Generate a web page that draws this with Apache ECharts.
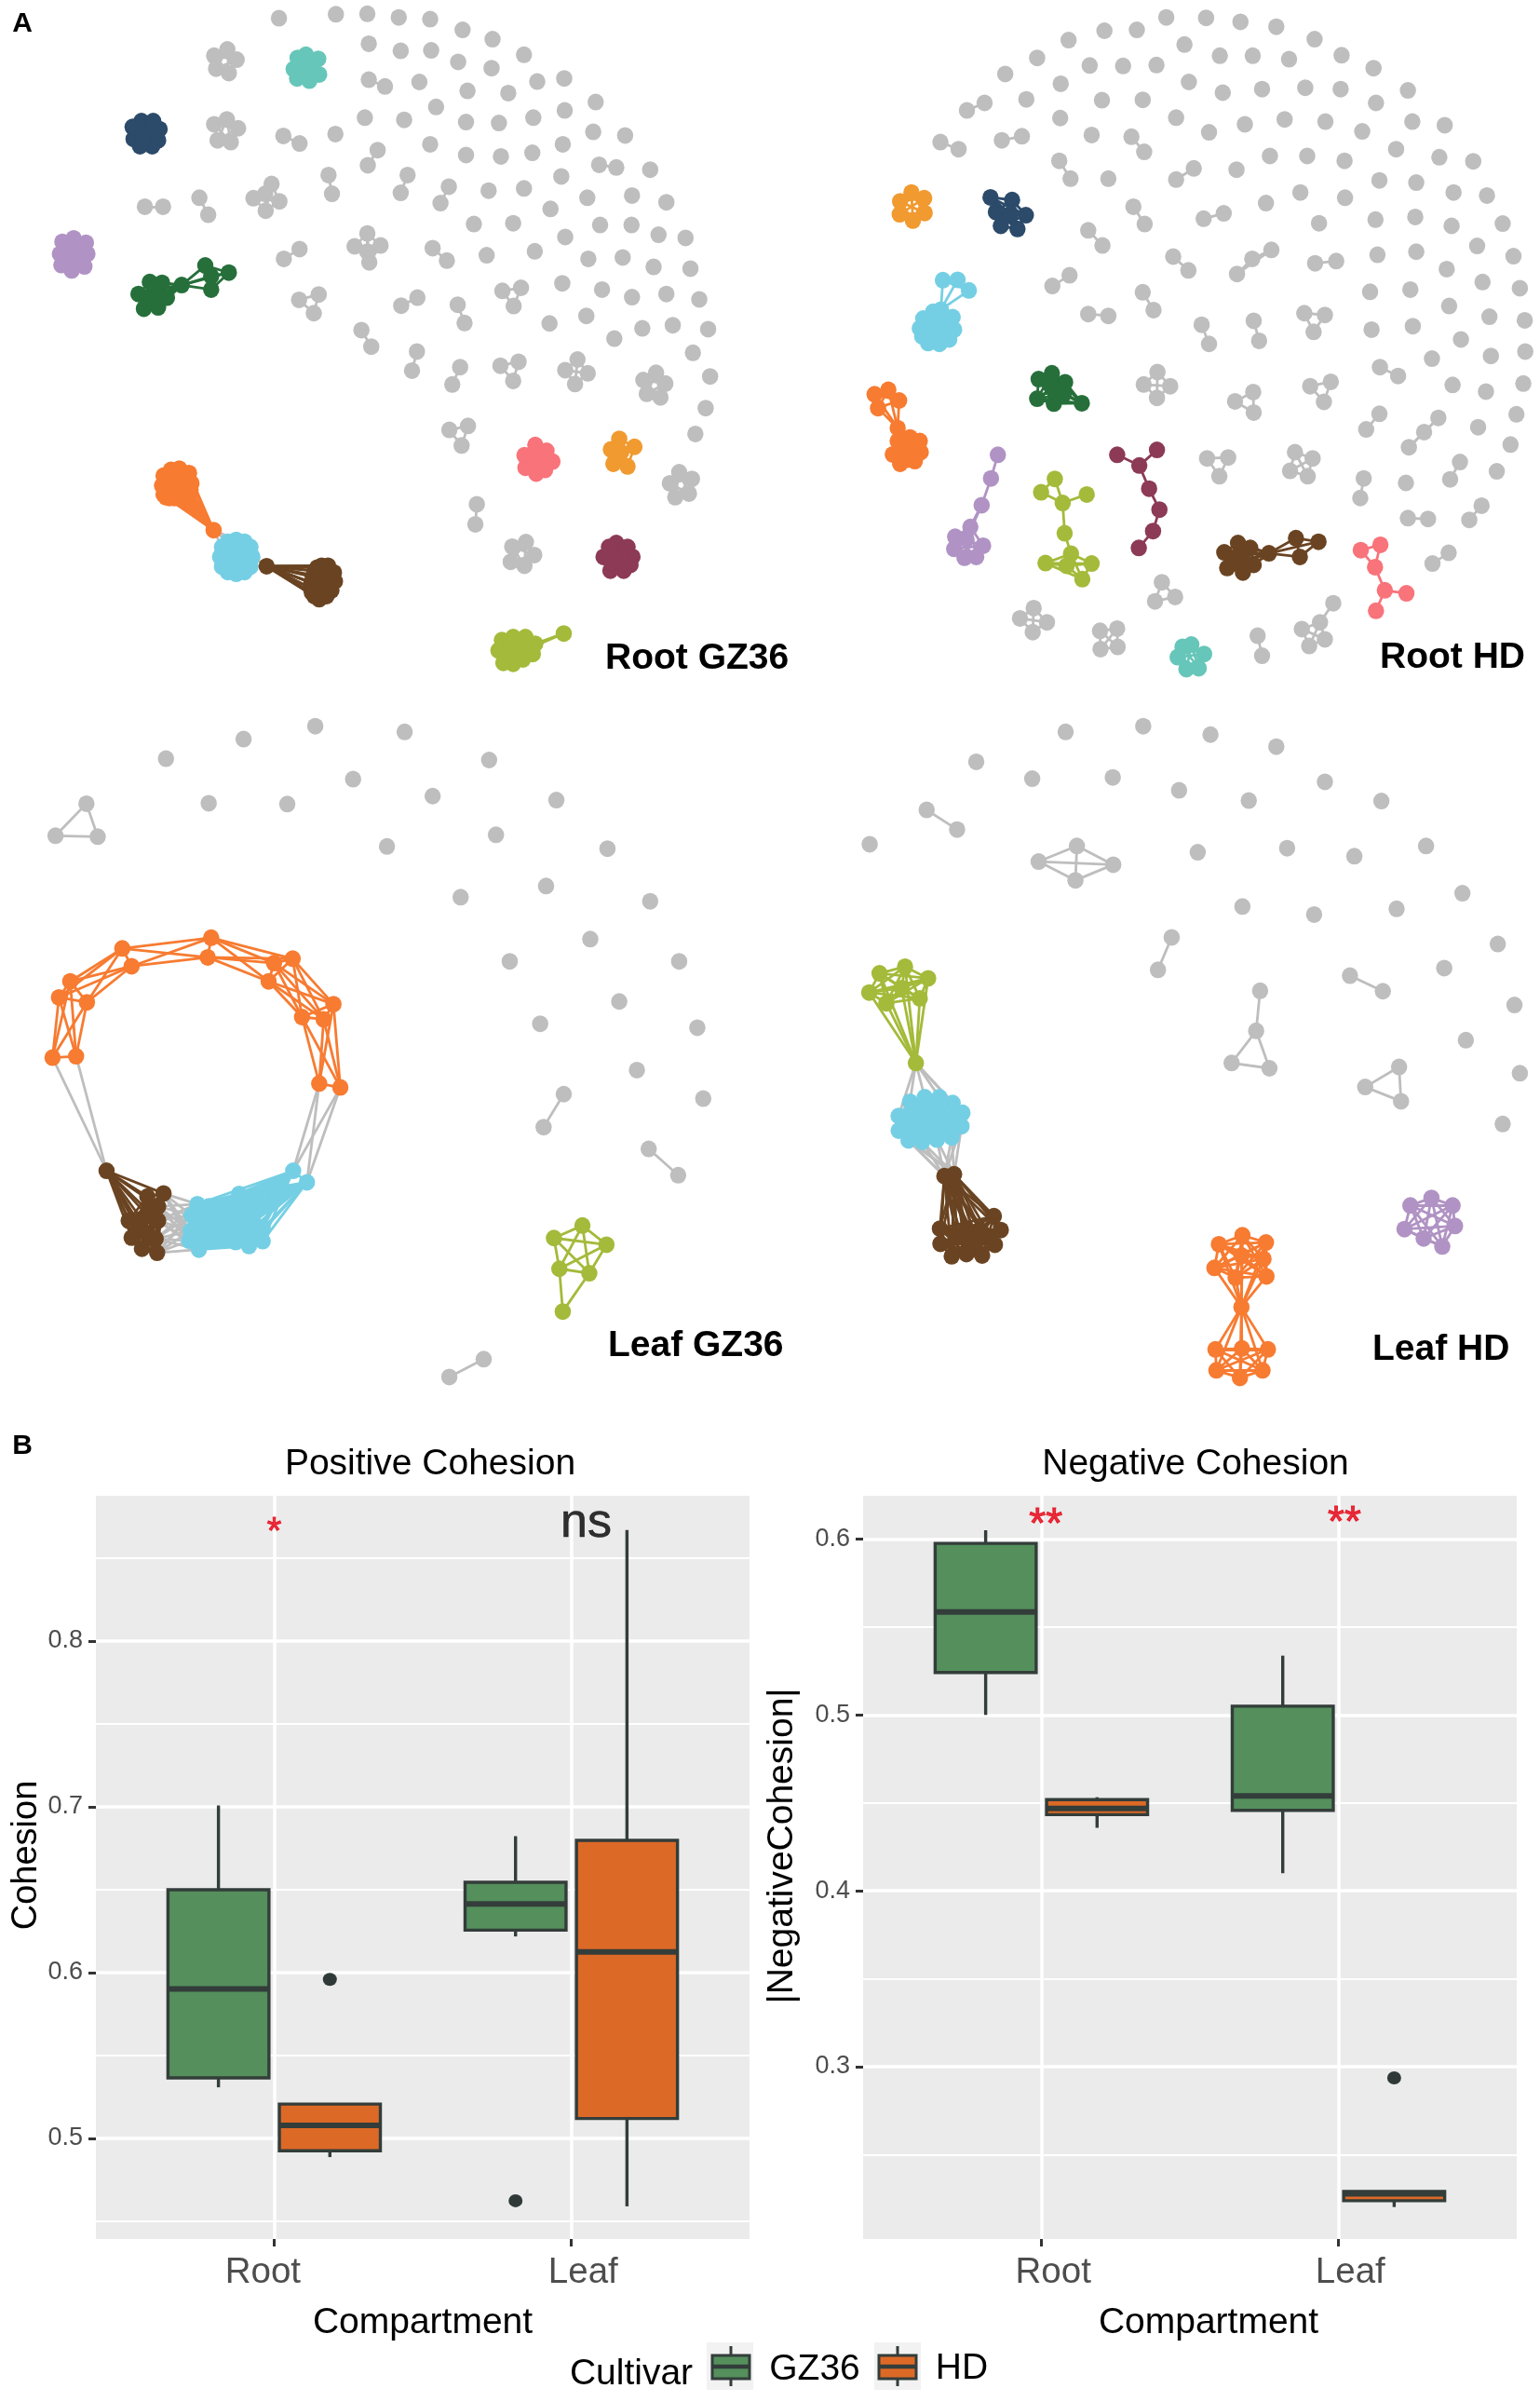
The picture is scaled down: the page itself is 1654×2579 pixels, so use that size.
<!DOCTYPE html>
<html><head><meta charset="utf-8">
<style>html,body{margin:0;padding:0;background:#fff}#c{width:1654px;height:2579px}</style>
<script src="https://cdn.jsdelivr.net/npm/echarts@6/dist/echarts.min.js"></script>
</head><body><div id="c"></div>
<script>
// ---------- Panel B values ----------
const compartments = ['Root', 'Leaf'];
const cultivars = ['GZ36', 'HD'];
// [low, q1, median, q3, high]
const posGZ36 = [[0.5308, 0.5365, 0.5902, 0.65, 0.7008], [0.6218, 0.6256, 0.6414, 0.6545, 0.6823]];
const posHD = [[0.4887, 0.4925, 0.5079, 0.5207, 0.5207], [0.459, 0.512, 0.6124, 0.6797, 0.8669]];
const negGZ36 = [[0.5, 0.5241, 0.5585, 0.5975, 0.605], [0.41, 0.4457, 0.4539, 0.505, 0.5337]];
const negHD = [[0.4358, 0.4433, 0.4468, 0.4518, 0.4532], [0.2202, 0.2238, 0.2277, 0.2291, 0.2294]];
const posOutGZ36 = [[2, 0.4624]];
const posOutHD = [[1, 0.5959]];
const negOutHD = [[2, 0.2936]];
const posTicks = [0.5, 0.6, 0.7, 0.8];
const posMinor = [0.45, 0.55, 0.65, 0.75, 0.85];
const negTicks = [0.3, 0.4, 0.5, 0.6];
const negMinor = [0.25, 0.35, 0.45, 0.55];
const posSig = [[1, 0.865, '*']];
const posNs = [[2.05, 0.871, 'ns']];
const negSig = [[1.015, 0.6073, '**'], [2.02, 0.6083, '**']];

// ---------- Panel A networks, in layout units ----------
const rgSingles = [[568,41],[684,32],[748,31],[812,39],[876,43],[942,67],[1003,88],[1067,123],[751,98],[816,114],[878,113],[933,139],[1001,153],[1094,183],[1149,176],[854,184],[952,204],[1035,209],[1213,229],[888,240],[1150,248],[1086,264],[743,264],[823,269],[949,274],[1016,276],[1208,296],[1273,304],[683,301],[876,324],[949,348],[1020,351],[1084,343],[1146,324],[1324,381],[1143,396],[1067,423],[995,428],[1196,444],[1287,439],[1357,454],[1121,469],[965,503],[1045,501],[1222,505],[1286,505],[1151,532],[1341,527],[1396,534],[1089,564],[991,573],[1198,581],[1268,578],[1331,599],[1406,603],[1145,636],[1226,650],[1287,667],[1357,660],[1424,672],[1119,726],[1194,709],[1251,760],[1308,737],[1370,730],[1442,739],[1411,792],[1446,845],[1437,916],[1416,974]];
const rgGrey = [
 [[751,179],[784,194]],[[577,305],[610,322]],[[769,337],[749,371]],[[669,393],[676,435]],[[830,393],[816,433]],[[914,419],[897,456]],[[1220,370],[1255,376]],[[295,464],[332,464]],[[406,444],[424,482]],[[610,559],[578,581]],[[881,557],[910,585]],[[850,668],[817,686]],[[932,684],[946,725]],[[736,741],[756,778]],[[849,789],[839,832]],[[937,824],[921,863]],[[971,1132],[968,1177]],
 [[609,673],[649,661],[639,703]],[[1023,653],[1061,646],[1046,687]],[[1019,821],[1056,812],[1045,855]],[[915,965],[953,956],[940,1000]],
 [[436,125],[463,111],[482,134],[466,164],[440,154]],[[436,279],[462,268],[485,288],[470,319],[443,315]],[[553,413],[516,445],[569,452],[541,473],[540,435]],[[748,524],[722,553],[775,551],[752,589],[748,565]],[[1176,807],[1151,831],[1197,838],[1171,862]],[[1336,837],[1310,853],[1355,861],[1345,892],[1317,884]],[[1383,1060],[1364,1085],[1409,1075],[1403,1108],[1375,1116]],[[1071,1217],[1043,1227],[1088,1246],[1068,1270],[1040,1261]]
];
const rgModules = [
 ['teal',[[623,123],[648,132],[650,167],[630,181],[605,176],[598,155],[606,130],[625,150]]],
 ['navy',[[288,272],[312,272],[325,290],[322,315],[310,328],[285,328],[272,312],[270,285],[295,300],[310,295],[290,315]]],
 ['purple',[[150,535],[175,545],[178,570],[172,598],[146,607],[125,595],[122,570],[127,543],[150,570],[135,555],[165,585],[165,555],[135,585]]],
 ['dkgreen',[[282,660],[305,633],[330,635],[293,693],[322,690],[340,668],[315,650],[320,665],[300,670],[370,640]]],
 ['dkgreen',[[370,640],[418,596],[466,612],[430,650],[430,620]]],
 ['coral',[[1090,999],[1113,1012],[1125,1036],[1110,1055],[1092,1063],[1070,1050],[1068,1022],[1095,1030]]],
 ['amber',[[1261,985],[1292,1003],[1278,1047],[1249,1041],[1244,1009],[1265,1015]]],
 ['maroon',[[1255,1219],[1278,1228],[1288,1250],[1284,1268],[1270,1281],[1243,1281],[1229,1250],[1240,1228],[1258,1250],[1270,1250],[1245,1262]]],
 ['orange',[[365,1052],[385,1062],[390,1085],[388,1100],[382,1107],[375,1112],[368,1115],[362,1117],[355,1118],[345,1118],[338,1116],[333,1110],[330,1090],[333,1068],[348,1055],[360,1085],[345,1085],[375,1085],[435,1190]]],
 ['cyan',[[481,1212],[498,1216],[510,1228],[514,1250],[510,1272],[498,1284],[481,1288],[464,1284],[452,1272],[448,1250],[452,1228],[464,1216],[481,1250],[465,1240],[497,1240],[470,1265],[495,1265],[481,1230]]],
 ['brown',[[655,1270],[668,1270],[680,1285],[682,1305],[675,1325],[665,1338],[650,1345],[640,1338],[635,1330],[633,1320],[634,1308],[637,1295],[641,1282],[646,1274],[655,1295],[660,1318],[543,1271]]],
 ['olive',[[1015,1460],[1022,1437],[1045,1430],[1070,1430],[1090,1445],[1085,1468],[1065,1480],[1045,1490],[1025,1488],[1050,1455],[1035,1462],[1068,1455],[1040,1445],[1055,1470]]],
 ['olive',[[1090,1445],[1148,1422],[1085,1452]],[[0,1],[1,2]]]
];
const rgBridges = [[[[435,1190]],[[452,1228],[464,1216],[481,1212]]],[[[543,1271]],[[514,1250],[510,1272]]]];

const rhSingles = [[807,39],[888,40],[958,49],[1031,60],[1109,88],[1164,124],[1229,153],[1299,203],[681,69],[747,67],[608,90],[544,130],[479,166],[844,100],[916,125],[983,125],[1057,133],[651,147],[719,148],[787,146],[853,184],[592,188],[922,208],[1002,200],[1090,197],[1162,200],[1234,231],[522,223],[676,225],[759,224],[591,265],[827,264],[967,279],[1048,268],[1131,273],[1206,295],[1308,273],[1374,281],[655,303],[894,297],[1275,335],[1363,353],[1432,362],[1018,350],[1094,350],[1170,361],[950,381],[689,401],[1241,405],[1316,410],[1392,432],[1460,439],[1080,432],[1171,444],[1010,456],[1118,501],[1233,493],[1314,487],[1388,507],[1492,502],[1237,572],[1316,565],[1440,552],[1514,575],[1378,604],[1451,633],[1527,647],[1222,655],[1304,650],[1383,687],[1465,711],[1537,719],[1225,740],[1309,732],[1407,762],[1348,805],[1468,799],[1538,789],[1390,864],[1458,879],[1534,861],[1442,959],[1520,930],[1508,998],[1480,1058],[1295,1084]];
const rhGrey = [
 [[401,248],[437,231]],[[347,319],[384,335]],[[472,315],[513,306]],[[736,307],[762,341]],[[589,361],[612,401]],[[863,378],[827,403]],[[740,464],[763,503]],[[648,517],[677,551]],[[924,479],[883,491]],[[821,576],[852,607]],[[1110,591],[1153,586]],[[610,618],[575,642]],[[648,705],[689,709]],[[759,656],[781,696]],[[879,729],[894,772]],[[985,720],[996,765]],[[1242,824],[1279,844]],[[1241,929],[1214,964]],[[1209,1074],[1202,1118]],[[1405,1037],[1385,1076]],[[1299,1163],[1340,1165]],[[1449,1135],[1424,1167]],[[1382,1241],[1349,1265]],[[993,1427],[1002,1472]],
 [[951,615],[982,581],[1021,561]],[[1301,1004],[1332,970],[1361,938]],
 [[1088,703],[1130,707],[1107,745]],[[984,880],[947,901],[985,926]],[[1142,857],[1100,867],[1128,902]],[[890,1029],[933,1027],[915,1069]],[[798,1307],[825,1340],[784,1350]],
 [[789,835],[761,863],[815,867],[788,893]],[[1069,1015],[1105,1029],[1059,1057],[1095,1069]],[[537,1365],[509,1388],[564,1397],[535,1419]],[[672,1416],[707,1411],[673,1457],[708,1452]],
 [[1083,1412],[1120,1397],[1130,1435],[1098,1450]],[[1147,1354],[1120,1397]]
];
const rhModules = [
 ['amber',[[288,432],[314,445],[315,478],[291,495],[264,481],[265,452]]],
 ['navy',[[449,443],[493,449],[521,483],[504,514],[470,507],[460,476],[490,480]]],
 ['cyan',[[352,629],[382,628],[405,652],[348,695]]],
 ['cyan',[[348,695],[312,715],[332,700],[372,712],[375,740],[365,762],[345,772],[322,770],[310,755],[305,737],[340,735],[330,718],[355,725],[335,750],[355,750]]],
 ['orange',[[213,885],[241,875],[263,899],[220,916],[260,961]]],
 ['orange',[[260,961],[260,990],[285,982],[305,990],[307,1015],[295,1035],[265,1041],[250,1020],[278,1012],[265,1012],[290,1010],[280,1032],[282,995]]],
 ['dkgreen',[[547,851],[574,838],[601,858],[544,895],[578,906],[598,885],[635,905],[575,870]]],
 ['olive',[[580,1075],[552,1105],[596,1129]]],
 ['olive',[[596,1129],[645,1110]],[[0,1]]],
 ['olive',[[596,1129],[600,1197],[613,1243]],[[0,1],[1,2]]],
 ['olive',[[561,1264],[604,1270],[613,1243],[655,1265],[636,1300]]],
 ['purple',[[464,1021],[450,1074],[431,1134],[408,1183]],[[0,1],[1,2],[2,3]]],
 ['purple',[[431,1134],[408,1183],[377,1205],[375,1232],[396,1252],[420,1250],[434,1225],[400,1210]],[[0,1],[0,7],[1,2],[1,3],[1,4],[1,5],[1,6],[1,7],[2,3],[2,4],[2,5],[2,6],[3,4],[3,5],[3,6],[4,5],[4,6],[5,6]]],
 ['maroon',[[707,1021],[788,1010],[752,1045],[772,1097],[793,1144],[780,1192],[751,1230]],[[0,2],[1,2],[2,3],[3,4],[4,5],[5,6]]],
 ['brown',[[925,1240],[953,1219],[978,1230],[985,1268],[963,1285],[931,1275],[955,1245],[965,1260],[945,1262],[1016,1242]]],
 ['brown',[[1016,1242],[1071,1208],[1117,1216],[1079,1250]]],
 ['coral',[[1203,1235],[1243,1223],[1232,1273],[1252,1325],[1296,1332],[1234,1371]],[[0,1],[0,2],[1,2],[2,3],[3,4],[3,5]]],
 ['teal',[[858,1447],[884,1468],[873,1500],[848,1502],[830,1475],[840,1452]]]
];
const rhBridges = [];

const lgSingles = [[338,135],[496,91],[642,62],[824,75],[996,138],[719,181],[425,235],[585,237],[881,219],[1133,228],[788,332],[1010,306],[1237,337],[938,446],[1112,421],[1324,455],[1202,540],[1038,590],[1383,590],[1261,680],[1100,730],[1420,739],[1297,834],[1432,898]];
const lgGrey = [[[1148,888],[1107,962]],[[1321,1011],[1381,1070]],[[985,1483],[915,1523]],[[176,236],[113,308],[199,310]]];
const lgRing = [[[107,806],[155,803]],[[120,671],[143,635],[177,682]],[[249,561],[268,601]],[[430,537],[423,581]],[[596,584],[558,594],[547,635]],[[679,686],[615,715],[659,720]],[[650,864],[693,873]]];
const lgModules = [
 ['brown',[[217,1060],[333,1111],[300,1118],[322,1140],[262,1172],[300,1160],[322,1172],[290,1195],[317,1213],[268,1210],[289,1235],[320,1244],[275,1180]]],
 ['cyan',[[597,1060],[625,1086],[487,1112],[515,1125],[402,1135],[390,1160],[500,1145],[420,1180],[388,1195],[535,1190],[385,1217],[405,1237],[507,1229],[535,1218],[450,1170],[480,1195],[430,1215],[510,1180],[402,1165],[405,1200],[490,1135],[520,1150],[525,1205],[480,1220],[455,1200],[440,1150],[470,1145],[425,1140]]],
 ['olive',[[1128,1211],[1186,1183],[1235,1226],[1139,1280],[1200,1290],[1146,1376]],[[0,1],[0,2],[0,3],[0,4],[1,2],[1,3],[1,4],[2,3],[2,4],[3,4],[5,3],[5,4]]]
];
const lgBridges = [
 [[[107,806],[155,803]],[[217,1060]]],
 [[[650,864],[693,873]],[[597,1060],[625,1086]]],
 [[[333,1111],[322,1140],[322,1172],[317,1213],[320,1244]],[[402,1135],[390,1160],[388,1195],[385,1217],[405,1237]]]
];

const lhSingles = [[602,75],[760,62],[897,81],[1031,108],[420,142],[534,180],[698,177],[833,206],[975,229],[1130,187],[1245,230],[203,327],[871,345],[1053,336],[1190,354],[1336,331],[962,467],[1108,485],[1276,472],[1410,437],[1482,551],[1373,605],[1516,688],[1417,767],[1527,841],[1492,955]];
const lhGrey = [[[319,250],[381,294]],[[818,536],[790,609]],[[1181,622],[1248,657]],
 [[547,366],[625,331],[699,373],[622,408]],[[998,656],[990,746]],[[990,746],[940,818],[1017,830]],[[1281,827],[1212,872],[1285,904]]];
const lhModules = [
 ['olive',[[275,602],[223,617],[322,628],[202,660],[237,684],[305,673],[268,650],[297,818]]],
 ['cyan',[[262,937],[262,970],[285,905],[315,895],[345,895],[372,908],[392,930],[390,960],[370,985],[340,990],[310,995],[282,992],[300,940],[340,930],[320,960],[355,955]]],
 ['brown',[[355,1072],[375,1068],[456,1162],[470,1193],[346,1190],[347,1224],[458,1226],[432,1250],[400,1247],[370,1252],[430,1195],[400,1190],[380,1205],[420,1215]]],
 ['orange',[[962,1205],[914,1225],[1010,1221],[1005,1258],[905,1278],[1011,1297],[948,1300],[960,1250],[960,1366]]],
 ['orange',[[960,1366],[907,1461],[961,1459],[1014,1461],[909,1508],[1003,1508],[957,1525]]],
 ['purple',[[1347,1121],[1304,1138],[1390,1138],[1395,1184],[1292,1191],[1331,1212],[1369,1230]]]
];
const lhBridges = [
 [[[297,818]],[[262,937],[285,905],[315,895],[345,895],[372,908],[392,930]]],
 [[[355,1072],[375,1068]],[[282,992],[310,995],[340,990],[370,985],[390,960],[262,970]]]
];

// ---------- presentation ----------
const palette = {grey:'#BEBEBF',teal:'#66C6B9',navy:'#2C4A69',purple:'#B093C4',dkgreen:'#266F3A',coral:'#F8737A',amber:'#F09A30',maroon:'#8C3A56',orange:'#F77B31',cyan:'#75CFE4',brown:'#6A4422',olive:'#A4BA3A'};
const FONT = '"Liberation Sans", Arial, sans-serif';
const INK = '#333D3A';

function pairs(n){const r=[];for(let i=0;i<n;i++)for(let j=i+1;j<n;j++)r.push([i,j]);return r;}
function network(singles, grey, modules, bridges, rings){
  const nodes=[],links=[],idx={};
  const groups=[['grey',singles,[]]].concat(grey.map(g=>['grey',g]),modules);
  const add=(p,c)=>{const k=p.join();if(idx[k]===undefined){idx[k]=nodes.length;nodes.push({value:p,itemStyle:{color:palette[c]}});}else if(c!=='grey'){nodes[idx[k]].itemStyle.color=palette[c];}return idx[k];};
  const link=(a,b,c)=>links.push({source:a,target:b,lineStyle:{color:palette[c],width:2.8,opacity:1}});
  const ids=groups.map(g=>g[1].map(p=>add(p,g[0])));
  (rings||[]).forEach(r=>r.forEach(b=>b.forEach(p=>add(p,'orange'))));
  // greys and bridges are laid first so coloured edges stay on top
  groups.forEach((g,i)=>{if(g[0]==='grey')(g[2]||pairs(g[1].length)).forEach(e=>link(ids[i][e[0]],ids[i][e[1]],'grey'));});
  bridges.forEach(b=>b[0].forEach(p=>b[1].forEach(q=>link(idx[p.join()],idx[q.join()],'grey'))));
  groups.forEach((g,i)=>{if(g[0]!=='grey')(g[2]||pairs(g[1].length)).forEach(e=>link(ids[i][e[0]],ids[i][e[1]],g[0]));});
  (rings||[]).forEach(r=>r.forEach((b,i)=>{
    const k=b.map(p=>idx[p.join()]);
    pairs(k.length).forEach(e=>link(k[e[0]],k[e[1]],'orange'));
    if(r[i+1])r[i+1].forEach(q=>k.forEach(a=>link(a,idx[q.join()],'orange')));
  }));
  return {nodes,links};
}
const nets=[
 network(rgSingles,rgGrey,rgModules,rgBridges),
 network(rhSingles,rhGrey,rhModules,rhBridges),
 network(lgSingles,lgGrey,lgModules,lgBridges,[lgRing]),
 network(lhSingles,lhGrey,lhModules,lhBridges)
];

const grids=[
 {left:0,top:0,width:827,height:750},{left:827,top:0,width:827,height:750},
 {left:0,top:750,width:827,height:750},{left:827,top:750,width:827,height:750},
 {left:103,top:1606,width:702,height:798,show:true,backgroundColor:'#EBEBEB',borderWidth:0},
 {left:927,top:1606,width:702,height:798,show:true,backgroundColor:'#EBEBEB',borderWidth:0}
];
const hiddenX=i=>({type:'value',gridIndex:i,min:0,max:1568,show:false});
const hiddenY=i=>({type:'value',gridIndex:i,min:0,max:1568,inverse:true,show:false});
const labelPositions=[[0.962,2.04],[1.04,2.04]];
function boxX(i,nameShift){return {type:'value',gridIndex:i+4,min:0.4,max:2.6,
  name:'Compartment',nameLocation:'middle',nameGap:71,
  nameTextStyle:{fontFamily:FONT,fontSize:39,color:'#000',padding:[0,0,0,nameShift]},
  axisLine:{show:false},
  axisTick:{show:true,length:8,customValues:[1,2],lineStyle:{color:'#333',width:3}},
  splitLine:{show:true,lineStyle:{color:'#fff',width:3.5}},
  axisLabel:{show:true,margin:17,customValues:labelPositions[i],fontFamily:FONT,fontSize:38.5,color:'#4D4D4D',
    formatter:(v,k)=>compartments[v<1.5?0:1]}};}
function boxY(i,ymin,ymax,ticks,name,gap,shift,size){return {type:'value',gridIndex:i+4,min:ymin,max:ymax,
  name,nameLocation:'middle',nameGap:gap,nameRotate:90,
  nameTextStyle:{fontFamily:FONT,fontSize:size,color:'#000',padding:[0,0,0,shift]},
  axisLine:{show:false},
  axisTick:{show:true,length:8,customValues:ticks,lineStyle:{color:'#333',width:3}},
  splitLine:{show:true,lineStyle:{color:'#fff',width:3.5}},
  axisLabel:{show:true,margin:14,customValues:ticks,fontFamily:FONT,fontSize:27,color:'#4D4D4D',formatter:v=>v.toFixed(1)}};}
function minorY(i,ymin,ymax,ticks){return {type:'value',gridIndex:i+4,min:ymin,max:ymax,position:'left',
  axisLine:{show:false},axisLabel:{show:false},
  axisTick:{show:false,customValues:ticks},
  splitLine:{show:true,lineStyle:{color:'#fff',width:1.8}}};}

const xAxes=[0,1,2,3].map(hiddenX).concat([boxX(0,0),boxX(1,40)]);
const yAxes=[0,1,2,3].map(hiddenY).concat([
  boxY(0,0.4393,0.8876,posTicks,'Cohesion',47,26,38),
  boxY(1,0.2020,0.6246,negTicks,'|NegativeCohesion|',67,46,39),
  minorY(0,0.4393,0.8876,posMinor),
  minorY(1,0.2020,0.6246,negMinor)]);

const BOX_W=0.34, DODGE=0.1875;
function boxRender(shift){return function(params,api){
  const x=api.value(0)+shift;
  const low=api.coord([x,api.value(1)]),q1=api.coord([x,api.value(2)]),med=api.coord([x,api.value(3)]),q3=api.coord([x,api.value(4)]),high=api.coord([x,api.value(5)]);
  const w=api.size([BOX_W,0])[0];
  const st={stroke:INK,lineWidth:3.4,fill:null};
  return {type:'group',children:[
    {type:'line',shape:{x1:low[0],y1:low[1],x2:low[0],y2:q1[1]},style:st},
    {type:'line',shape:{x1:high[0],y1:q3[1],x2:high[0],y2:high[1]},style:st},
    {type:'rect',shape:{x:q3[0]-w/2,y:q3[1],width:w,height:q1[1]-q3[1]},style:{fill:api.visual('color'),stroke:INK,lineWidth:3.4}},
    {type:'line',shape:{x1:med[0]-w/2,y1:med[1],x2:med[0]+w/2,y2:med[1]},style:{stroke:INK,lineWidth:6}}
  ]};
};}
function rows(arr){return arr.map((r,i)=>[i+1].concat(r));}
function boxSeries(name,arr,p,shift,color){return {type:'custom',name,xAxisIndex:p+4,yAxisIndex:p+4,
  itemStyle:{color},encode:{x:0,y:[1,2,3,4,5]},data:rows(arr),renderItem:boxRender(shift),z:5,silent:true,clip:false};}
function outSeries(arr,p,shift){return {type:'scatter',xAxisIndex:p+4,yAxisIndex:p+4,symbol:'circle',symbolSize:[15,14],
  itemStyle:{color:'#2F3A38',opacity:1},data:arr.map(o=>[o[0]+shift,o[1]]),z:6,silent:true};}
function textSeries(arr,p,size,color,border){return {type:'scatter',xAxisIndex:p+4,yAxisIndex:p+4,symbolSize:1,
  itemStyle:{color:'rgba(0,0,0,0)'},data:arr,z:7,silent:true,
  label:{show:true,position:'inside',formatter:d=>d.data[2],fontFamily:FONT,fontSize:size,color,lineHeight:size,textBorderColor:color,textBorderWidth:border}};}

const series=nets.map((n,i)=>({type:'graph',coordinateSystem:'cartesian2d',xAxisIndex:i,yAxisIndex:i,layout:'none',
  symbol:'circle',symbolSize:[17.5,18],data:n.nodes,links:n.links,silent:true,label:{show:false},emphasis:{disabled:true},
  lineStyle:{opacity:1},z:2})).concat([
  boxSeries(cultivars[0],posGZ36,0,-DODGE,'#548F5C'),
  boxSeries(cultivars[1],posHD,0,DODGE,'#DD6926'),
  boxSeries(cultivars[0],negGZ36,1,-DODGE,'#548F5C'),
  boxSeries(cultivars[1],negHD,1,DODGE,'#DD6926'),
  outSeries(posOutGZ36,0,-DODGE),outSeries(posOutHD,0,DODGE),outSeries(negOutHD,1,DODGE),
  textSeries(posSig,0,40,'#E60012',1),textSeries(posNs,0,52,'#000',0.6),textSeries(negSig,1,46,'#E60012',1)
]);

const text=(t,x,y,size,weight,align)=>({type:'text',x,y,z:20,silent:true,style:{text:t,x:0,y:0,fontFamily:FONT,fontSize:size,fontWeight:weight||'normal',fill:'#000',textAlign:align||'center',textVerticalAlign:'middle'}});
function key(cx,bg0,color){return [
  {type:'rect',z:20,silent:true,shape:{x:bg0,y:2515,width:50,height:51},style:{fill:'#F2F2F2'}},
  {type:'line',z:21,silent:true,shape:{x1:cx,y1:2519,x2:cx,y2:2562},style:{stroke:INK,lineWidth:3}},
  {type:'rect',z:22,silent:true,shape:{x:cx-20,y:2529,width:40,height:25},style:{fill:color,stroke:INK,lineWidth:3}},
  {type:'line',z:23,silent:true,shape:{x1:cx-20,y1:2541,x2:cx+20,y2:2541},style:{stroke:INK,lineWidth:4.5}}
];}
const graphic=[
  text('A',24,26,30,'bold'),text('B',24,1553,30,'bold'),
  text('Root GZ36',650,707,39,'bold','left'),text('Root HD',1482,706,39,'bold','left'),
  text('Leaf GZ36',653,1445,39,'bold','left'),text('Leaf HD',1474,1449,39,'bold','left'),
  text(cultivars[0],875,2544,39),text(cultivars[1],1033,2543,39),text('Cultivar',678,2549,39)
].concat(key(785,759,'#548F5C'),key(964,939,'#DD6926'));

const chart=echarts.init(document.getElementById('c'),null,{renderer:'canvas',width:1654,height:2579});
chart.setOption({
  animation:false,backgroundColor:'#fff',
  title:[
    {text:'Positive Cohesion',left:457,top:1548,textAlign:'center',textStyle:{fontFamily:FONT,fontSize:39,fontWeight:'normal',color:'#000'}},
    {text:'Negative Cohesion',left:1279,top:1548,textAlign:'center',textStyle:{fontFamily:FONT,fontSize:39,fontWeight:'normal',color:'#000'}}
  ],
  grid:grids,xAxis:xAxes,yAxis:yAxes,series,graphic:{elements:graphic}
});
</script></body></html>
